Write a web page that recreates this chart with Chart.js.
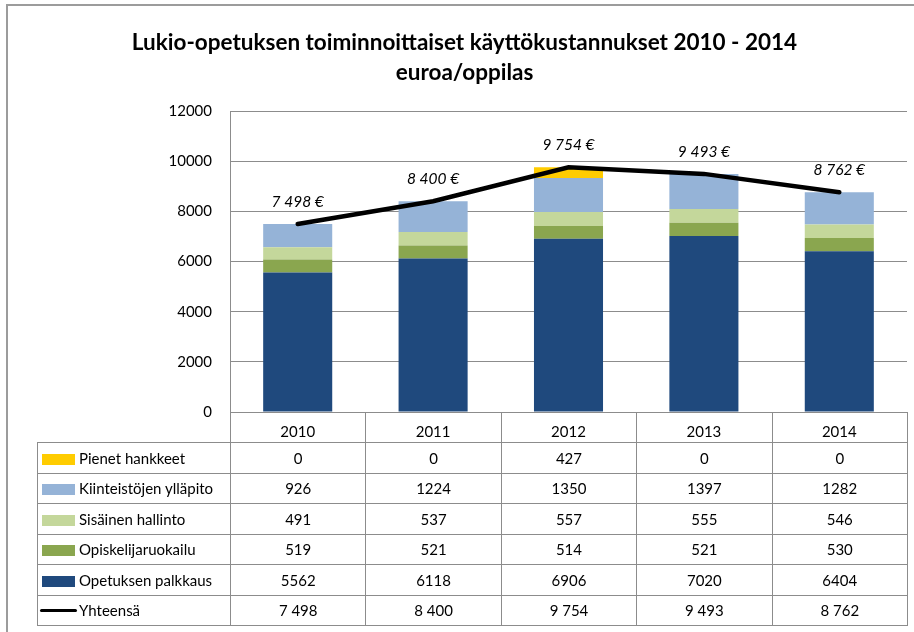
<!DOCTYPE html>
<html><head><meta charset="utf-8">
<script src="https://cdn.jsdelivr.net/npm/chart.js@4.4.1/dist/chart.umd.min.js"></script>
<style>
html,body{margin:0;padding:0;background:#fff;overflow:hidden;}
#wrap{position:relative;width:914px;height:632px;overflow:hidden;}
#frame{position:absolute;left:6px;top:4px;width:1000px;height:1000px;border-left:2px solid #9c9c9c;border-top:2px solid #9c9c9c;}
#c{position:absolute;left:0;top:0;}
#tbl{position:absolute;border-collapse:collapse;font-family:Lato,"Noto Sans",sans-serif;font-size:15px;color:#000;table-layout:fixed;}
#tbl td{border:1px solid #8c8c8c;padding:0;text-align:center;white-space:nowrap;overflow:hidden;}
#tbl td.lab{text-align:left;padding-left:4px;}
#tbl td.blank{border-top:none;border-left:none;}
.sw{display:inline-block;width:33px;height:11px;margin-right:4px;vertical-align:-1px;}
.ln{display:inline-block;width:37px;height:3px;margin-left:-2px;margin-right:2px;background:#000;border-radius:2px;vertical-align:4px;}
</style></head>
<body>
<div id="wrap">
<div id="frame"></div>
<canvas id="c" width="914" height="632"></canvas>
<table id="tbl"></table>
</div>
<script>
const categories = ['2010','2011','2012','2013','2014'];
const opetuksenPalkkaus = [5562, 6118, 6906, 7020, 6404];
const opiskelijaruokailu = [519, 521, 514, 521, 530];
const sisainenHallinto = [491, 537, 557, 555, 546];
const kiinteistojenYllapito = [926, 1224, 1350, 1397, 1282];
const pienetHankkeet = [0, 0, 427, 0, 0];
const yhteensa = [7498, 8400, 9754, 9493, 8762];
const yTicks = [0, 2000, 4000, 6000, 8000, 10000, 12000];
const titleLines = ['Lukio-opetuksen toiminnoittaiset käyttökustannukset 2010 - 2014', 'euroa/oppilas'];

const FONT = 'Lato, "Noto Sans", sans-serif';
const fmt = v => String(v).replace(/\B(?=(\d{3})+(?!\d))/g, ' ');

const barSeries = [
  {label:'Opetuksen palkkaus', data:opetuksenPalkkaus, color:'#1F497D'},
  {label:'Opiskelijaruokailu', data:opiskelijaruokailu, color:'#8AA64F'},
  {label:'Sisäinen hallinto', data:sisainenHallinto, color:'#C4D79B'},
  {label:'Kiinteistöjen ylläpito', data:kiinteistojenYllapito, color:'#95B3D7'},
  {label:'Pienet hankkeet', data:pienetHankkeet, color:'#FFCC00'}
];

const totalLabels = {
  id:'totalLabels',
  afterDatasetsDraw(chart){
    const idx = chart.data.datasets.findIndex(d => d.type === 'line');
    const meta = chart.getDatasetMeta(idx);
    const ctx = chart.ctx;
    ctx.save();
    ctx.font = 'italic 15.5px ' + FONT;
    ctx.fillStyle = '#000';
    ctx.textAlign = 'center';
    ctx.textBaseline = 'middle';
    meta.data.forEach((pt, i) => ctx.fillText(fmt(yhteensa[i]) + ' €', pt.x, pt.y - 22));
    ctx.restore();
  }
};

Chart.defaults.font.family = FONT;
Chart.defaults.color = '#000';

const chart = new Chart(document.getElementById('c'), {
  data: {
    labels: categories,
    datasets: [
      {type:'line', label:'Yhteensä', data:yhteensa, borderColor:'#000', borderWidth:4.5, pointRadius:0, tension:0, stack:'total', order:0, borderCapStyle:'round'},
      ...barSeries.map(s => ({type:'bar', label:s.label, data:s.data, backgroundColor:s.color, borderWidth:0, stack:'bars', order:1, barPercentage:0.51, categoryPercentage:1}))
    ]
  },
  options: {
    responsive:false, animation:false,
    layout:{padding:{left:22, right:7, top:5, bottom:190}},
    plugins:{
      legend:{display:false}, tooltip:{enabled:false},
      title:{display:true, text:titleLines, font:{size:22.5, weight:'bold', lineHeight:30/22.5}, padding:{top:23, bottom:23}, color:'#000'}
    },
    scales:{
      x:{stacked:true, grid:{display:false}, border:{display:true, color:'#8c8c8c'},
         ticks:{font:{size:15}, padding:3},
         afterFit(s){ s.height = 30; }},
      y:{stacked:true, min:0, max:12000,
         afterBuildTicks(s){ s.ticks = yTicks.map(v => ({value:v})); },
         grid:{color:'#8c8c8c', lineWidth:1, drawTicks:false},
         border:{display:true, color:'#8c8c8c'},
         ticks:{font:{size:15}, padding:18, callback:v => String(v)},
         afterFit(s){ s.width = 208; }}
    }
  },
  plugins:[totalLabels]
});

// data table under the chart, aligned with the category axis
(function buildTable(){
  const xs = chart.scales.x, area = chart.chartArea;
  const colW = (xs.right - xs.left) / categories.length;
  const tableLeft = 37;
  const tbl = document.getElementById('tbl');
  tbl.style.left = tableLeft + 'px';
  tbl.style.top = area.bottom + 'px';
  let html = '<colgroup><col style="width:' + (area.left - tableLeft) + 'px">';
  categories.forEach(() => html += '<col style="width:' + colW + 'px">');
  html += '</colgroup>';
  html += '<tr style="height:30px"><td class="blank"></td>' + categories.map(() => '<td></td>').join('') + '</tr>';
  const rows = barSeries.slice().reverse();
  rows.forEach(s => {
    html += '<tr style="height:30.5px"><td class="lab"><span class="sw" style="background:' + s.color + '"></span>' + s.label + '</td>' +
      s.data.map(v => '<td>' + v + '</td>').join('') + '</tr>';
  });
  html += '<tr style="height:30.5px"><td class="lab"><span class="ln"></span>Yhteensä</td>' + yhteensa.map(v => '<td>' + fmt(v) + '</td>').join('') + '</tr>';
  tbl.innerHTML = html;
  tbl.style.width = (xs.right - tableLeft) + 'px';
})();
</script>
</body></html>
